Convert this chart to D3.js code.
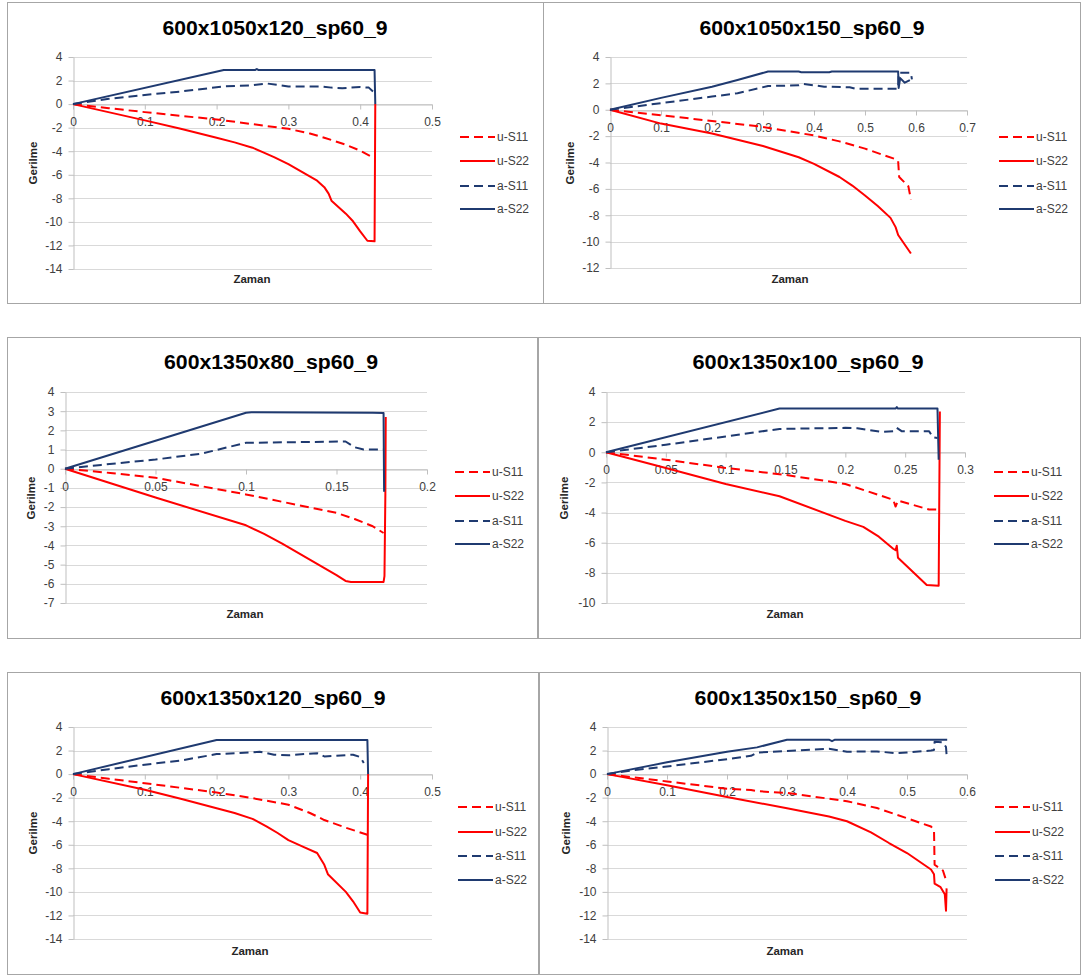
<!DOCTYPE html>
<html>
<head>
<meta charset="utf-8">
<script src="https://cdn.jsdelivr.net/npm/d3@7"></script>
<style>
  html, body { margin: 0; padding: 0; background: #ffffff; }
  svg { display: block; }
  text { font-family: "Liberation Sans", Arial, sans-serif; }
</style>
</head>
<body>
<svg id="chart" width="1083" height="976"></svg>
<script>
// ---------------- DATA ----------------
const titles = ["600x1050x120_sp60_9", "600x1050x150_sp60_9", "600x1350x80_sp60_9",
                "600x1350x100_sp60_9", "600x1350x120_sp60_9", "600x1350x150_sp60_9"];
const seriesNames = ["u-S11", "u-S22", "a-S11", "a-S22"];
const xAxisTitle = "Zaman";
const yAxisTitle = "Gerilme";

// tick values / labels
const xTicks1 = [0, 0.1, 0.2, 0.3, 0.4, 0.5];
const xTickLabels1 = ["0", "0.1", "0.2", "0.3", "0.4", "0.5"];
const xTicks2 = [0, 0.1, 0.2, 0.3, 0.4, 0.5, 0.6, 0.7];
const xTickLabels2 = ["0", "0.1", "0.2", "0.3", "0.4", "0.5", "0.6", "0.7"];
const xTicks3 = [0, 0.05, 0.1, 0.15, 0.2];
const xTickLabels3 = ["0", "0.05", "0.1", "0.15", "0.2"];
const xTicks4 = [0, 0.05, 0.1, 0.15, 0.2, 0.25, 0.3];
const xTickLabels4 = ["0", "0.05", "0.1", "0.15", "0.2", "0.25", "0.3"];
const xTicks6 = [0, 0.1, 0.2, 0.3, 0.4, 0.5, 0.6];
const xTickLabels6 = ["0", "0.1", "0.2", "0.3", "0.4", "0.5", "0.6"];
const yTicks14 = [4, 2, 0, -2, -4, -6, -8, -10, -12, -14];
const yTicks12 = [4, 2, 0, -2, -4, -6, -8, -10, -12];
const yTicks7 = [4, 3, 2, 1, 0, -1, -2, -3, -4, -5, -6, -7];
const yTicks10 = [4, 2, 0, -2, -4, -6, -8, -10];

// Panel 1: 600x1050x120
const p1_uS11 = [[0,0],[0.05,-0.35],[0.1,-0.68],[0.15,-1.0],[0.2,-1.3],[0.25,-1.7],[0.3,-2.1],[0.33,-2.5],[0.35,-2.85],[0.38,-3.45],[0.4,-3.95],[0.42,-4.6]];
const p1_uS22 = [[0,0],[0.1,-1.38],[0.15,-2.1],[0.2,-2.85],[0.225,-3.25],[0.25,-3.7],[0.265,-4.1],[0.28,-4.5],[0.3,-5.1],[0.32,-5.8],[0.34,-6.5],[0.35,-7.05],[0.356,-7.6],[0.36,-8.2],[0.38,-9.3],[0.39,-9.95],[0.4,-10.8],[0.41,-11.6],[0.42,-11.65],[0.421,0]];
const p1_aS11 = [[0,0],[0.05,0.45],[0.1,0.78],[0.15,1.07],[0.21,1.5],[0.25,1.6],[0.27,1.75],[0.3,1.5],[0.345,1.5],[0.36,1.4],[0.375,1.35],[0.4,1.45],[0.412,1.4],[0.42,0.95]];
const p1_aS22 = [[0,0],[0.21,2.9],[0.254,2.9],[0.256,2.98],[0.258,2.9],[0.42,2.9],[0.421,0]];

// Panel 2: 600x1050x150
const p2_uS11 = [[0,0],[0.1,-0.42],[0.2,-0.85],[0.3,-1.3],[0.4,-1.95],[0.45,-2.4],[0.5,-2.95],[0.56,-3.75],[0.565,-3.9],[0.567,-5.1],[0.585,-5.8],[0.59,-6.8]];
const p2_uS22 = [[0,0],[0.1,-1.05],[0.2,-1.8],[0.3,-2.75],[0.37,-3.6],[0.4,-4.1],[0.45,-5.1],[0.475,-5.75],[0.5,-6.5],[0.525,-7.3],[0.55,-8.2],[0.56,-8.9],[0.565,-9.5],[0.59,-10.9]];
const p2_aS11 = [[0,0],[0.1,0.5],[0.2,1.0],[0.25,1.25],[0.31,1.8],[0.37,1.85],[0.38,1.95],[0.42,1.75],[0.47,1.7],[0.48,1.6],[0.565,1.6],[0.566,2.8],[0.59,2.8],[0.592,2.3]];
const p2_aS22 = [[0,0],[0.1,0.9],[0.2,1.75],[0.25,2.25],[0.31,2.9],[0.37,2.9],[0.375,2.85],[0.43,2.85],[0.435,2.9],[0.565,2.9],[0.566,1.65],[0.569,2.4],[0.578,2.05],[0.588,2.25]];

// Panel 3: 600x1350x80
const p3_uS11 = [[0,0],[0.025,-0.22],[0.05,-0.47],[0.1,-1.34],[0.15,-2.3],[0.16,-2.62],[0.17,-3.0],[0.176,-3.35]];
const p3_uS22 = [[0,0],[0.05,-1.5],[0.1,-2.95],[0.11,-3.4],[0.12,-3.9],[0.15,-5.55],[0.155,-5.85],[0.158,-5.9],[0.176,-5.9],[0.1765,-5.6],[0.177,-1.3],[0.1772,2.7]];
const p3_aS11 = [[0,0],[0.02,0.2],[0.05,0.48],[0.075,0.78],[0.1,1.35],[0.155,1.42],[0.16,1.12],[0.165,1.0],[0.176,1.0]];
const p3_aS22 = [[0,0],[0.1,2.92],[0.103,2.95],[0.17,2.92],[0.176,2.9],[0.1763,-1.2]];

// Panel 4: 600x1350x100
const p4_uS11 = [[0,0],[0.05,-0.49],[0.1,-1.04],[0.15,-1.5],[0.2,-2.1],[0.24,-3.15],[0.242,-3.6],[0.244,-3.2],[0.27,-3.8],[0.277,-3.8]];
const p4_uS22 = [[0,0],[0.05,-1.04],[0.1,-2.1],[0.145,-2.92],[0.2,-4.55],[0.215,-4.95],[0.228,-5.6],[0.24,-6.4],[0.242,-6.5],[0.243,-6.2],[0.244,-7.0],[0.268,-8.8],[0.278,-8.85],[0.279,2.7]];
const p4_aS11 = [[0,0],[0.05,0.5],[0.1,1.05],[0.145,1.55],[0.2,1.62],[0.21,1.6],[0.23,1.35],[0.24,1.4],[0.243,1.62],[0.247,1.4],[0.27,1.4],[0.273,1.0],[0.277,0.95]];
const p4_aS22 = [[0,0],[0.145,2.9],[0.242,2.9],[0.243,3.0],[0.244,2.9],[0.277,2.9],[0.278,-0.5]];

// Panel 5: 600x1350x120
const p5_uS11 = [[0,0],[0.05,-0.4],[0.1,-0.77],[0.2,-1.56],[0.25,-2.04],[0.3,-2.6],[0.33,-3.3],[0.35,-3.9],[0.38,-4.55],[0.41,-5.15]];
const p5_uS22 = [[0,0],[0.1,-1.33],[0.15,-2.1],[0.2,-2.9],[0.225,-3.3],[0.25,-3.8],[0.27,-4.45],[0.285,-5.0],[0.3,-5.6],[0.32,-6.15],[0.34,-6.7],[0.35,-7.7],[0.355,-8.5],[0.38,-10.0],[0.39,-10.8],[0.4,-11.75],[0.41,-11.85],[0.411,0]];
const p5_aS11 = [[0,0],[0.05,0.42],[0.1,0.8],[0.15,1.15],[0.2,1.7],[0.25,1.85],[0.26,1.9],[0.28,1.65],[0.3,1.6],[0.34,1.78],[0.35,1.5],[0.39,1.65],[0.4,1.45],[0.405,0.95]];
const p5_aS22 = [[0,0],[0.2,2.9],[0.25,2.9],[0.41,2.9],[0.411,0]];

// Panel 6: 600x1350x150
const p6_uS11 = [[0,0],[0.1,-0.62],[0.2,-1.24],[0.24,-1.35],[0.25,-1.45],[0.3,-1.6],[0.4,-2.3],[0.45,-2.88],[0.5,-3.75],[0.54,-4.45],[0.545,-4.75],[0.546,-7.7],[0.56,-8.2],[0.565,-9.0]];
const p6_uS22 = [[0,0],[0.1,-0.95],[0.2,-1.95],[0.3,-2.9],[0.37,-3.6],[0.4,-4.0],[0.44,-4.95],[0.47,-5.85],[0.5,-6.7],[0.54,-8.1],[0.545,-8.5],[0.546,-9.3],[0.556,-9.6],[0.563,-10.2],[0.565,-11.6],[0.566,-9.7]];
const p6_aS11 = [[0,0],[0.05,0.37],[0.1,0.65],[0.2,1.27],[0.24,1.55],[0.25,1.83],[0.3,1.97],[0.37,2.15],[0.4,1.9],[0.45,1.93],[0.48,1.78],[0.5,1.84],[0.54,2.0],[0.545,2.05],[0.546,2.75],[0.56,2.7],[0.565,2.3],[0.566,1.6]];
const p6_aS22 = [[0,0],[0.1,1.0],[0.2,1.9],[0.25,2.27],[0.3,2.92],[0.37,2.92],[0.375,2.8],[0.38,2.92],[0.567,2.92]];

// ---------------- LAYOUT / STYLE ----------------
const RED = "#ff0000", NAVY = "#1f3a70";
const seriesStyle = [
  { color: RED,  dash: "9,5" },
  { color: RED,  dash: null },
  { color: NAVY, dash: "9,5" },
  { color: NAVY, dash: null }
];

const panels = [
  { series: [p1_uS11, p1_uS22, p1_aS11, p1_aS22], xDom: [0, 0.5], yDom: [-14, 4], xTicks: xTicks1, xLabels: xTickLabels1, yTicks: yTicks14,
    box: [7, 2, 543, 303], plot: [73, 432, 57, 269], title: [275, 28, 225], legend: [460, [137, 161, 186, 209]], xlab: [252, 279], ylab: [33, 163] },
  { series: [p2_uS11, p2_uS22, p2_aS11, p2_aS22], xDom: [0, 0.7], yDom: [-12, 4], xTicks: xTicks2, xLabels: xTickLabels2, yTicks: yTicks12,
    box: [543, 2, 1080, 303], plot: [610, 967, 57, 268], title: [812, 28, 225], legend: [999, [137, 161, 186, 209]], xlab: [790, 279], ylab: [570, 163] },
  { series: [p3_uS11, p3_uS22, p3_aS11, p3_aS22], xDom: [0, 0.2], yDom: [-7, 4], xTicks: xTicks3, xLabels: xTickLabels3, yTicks: yTicks7,
    box: [7, 337, 537, 638], plot: [65, 427, 392, 603], title: [271, 362, 214], legend: [455, [472, 496, 521, 544]], xlab: [245, 614], ylab: [31, 498] },
  { series: [p4_uS11, p4_uS22, p4_aS11, p4_aS22], xDom: [0, 0.3], yDom: [-10, 4], xTicks: xTicks4, xLabels: xTickLabels4, yTicks: yTicks10,
    box: [538, 337, 1080, 638], plot: [606, 965, 392, 603], title: [808, 362, 231], legend: [994, [472, 496, 521, 544]], xlab: [785, 614], ylab: [564, 498] },
  { series: [p5_uS11, p5_uS22, p5_aS11, p5_aS22], xDom: [0, 0.5], yDom: [-14, 4], xTicks: xTicks1, xLabels: xTickLabels1, yTicks: yTicks14,
    box: [7, 672, 538, 974], plot: [73, 432, 727, 939], title: [273, 698, 225], legend: [458, [807, 832, 856, 880]], xlab: [250, 951], ylab: [33, 833] },
  { series: [p6_uS11, p6_uS22, p6_aS11, p6_aS22], xDom: [0, 0.6], yDom: [-14, 4], xTicks: xTicks6, xLabels: xTickLabels6, yTicks: yTicks14,
    box: [539, 672, 1080, 974], plot: [607, 967, 727, 939], title: [808, 698, 227], legend: [995, [807, 832, 856, 880]], xlab: [785, 951], ylab: [566, 833] }
];

// ---------------- DRAW ----------------
const svg = d3.select("#chart");
svg.append("rect").attr("width", 1083).attr("height", 976).attr("fill", "#ffffff");

panels.forEach((p, i) => {
  const g = svg.append("g");
  const [bx0, by0, bx1, by1] = p.box;
  g.append("rect")
    .attr("x", bx0 + 0.5).attr("y", by0 + 0.5)
    .attr("width", bx1 - bx0).attr("height", by1 - by0)
    .attr("fill", "#ffffff").attr("stroke", "#a6a6a6").attr("stroke-width", 1);

  const [px0, px1, py0, py1] = p.plot;
  const x = d3.scaleLinear().domain(p.xDom).range([px0, px1]);
  const y = d3.scaleLinear().domain([p.yDom[1], p.yDom[0]]).range([py0, py1]);

  // gridlines
  g.append("g").selectAll("line").data(p.yTicks).join("line")
    .attr("x1", px0).attr("x2", px1)
    .attr("y1", d => Math.round(y(d)) + 0.5).attr("y2", d => Math.round(y(d)) + 0.5)
    .attr("stroke", "#d9d9d9").attr("stroke-width", 1);

  // y axis
  const yAxis = d3.axisLeft(y).tickValues(p.yTicks).tickSize(5).tickSizeOuter(0).tickPadding(6)
    .tickFormat(d => String(d));
  const ya = g.append("g").attr("transform", `translate(${Math.round(px0) + 0.5},0)`).call(yAxis);
  ya.select(".domain").attr("stroke", "#bfbfbf").attr("stroke-width", 1);
  ya.selectAll(".tick line").attr("stroke", "#bfbfbf");
  ya.selectAll(".tick text").attr("fill", "#404040").style("font-size", "12px")
    .style("font-family", "'Liberation Sans', Arial, sans-serif");

  // x axis at y = 0
  const xAxis = d3.axisBottom(x).tickValues(p.xTicks).tickSize(5).tickSizeOuter(0).tickPadding(8)
    .tickFormat((d, k) => p.xLabels[k]);
  const xa = g.append("g").attr("transform", `translate(0,${Math.round(y(0)) + 0.5})`).call(xAxis);
  xa.select(".domain").attr("stroke", "#bfbfbf").attr("stroke-width", 1);
  xa.selectAll(".tick line").attr("stroke", "#bfbfbf");
  xa.selectAll(".tick text").attr("fill", "#404040").style("font-size", "12px")
    .style("font-family", "'Liberation Sans', Arial, sans-serif");

  // series
  const line = d3.line().x(d => x(d[0])).y(d => y(d[1]));
  p.series.forEach((data, k) => {
    g.append("path").datum(data)
      .attr("d", line)
      .attr("fill", "none")
      .attr("stroke", seriesStyle[k].color)
      .attr("stroke-width", 2)
      .attr("stroke-linejoin", "round")
      .attr("stroke-dasharray", seriesStyle[k].dash);
  });

  // title
  g.append("text")
    .attr("x", p.title[0]).attr("y", p.title[1])
    .attr("text-anchor", "middle").attr("dy", "0.36em")
    .attr("textLength", p.title[2]).attr("lengthAdjust", "spacingAndGlyphs")
    .style("font-size", "20px").style("font-weight", "bold").attr("fill", "#000000")
    .text(titles[i]);

  // axis titles
  g.append("text")
    .attr("x", p.xlab[0]).attr("y", p.xlab[1]).attr("dy", "0.35em")
    .attr("text-anchor", "middle")
    .style("font-size", "11.5px").style("font-weight", "bold").attr("fill", "#262626")
    .text(xAxisTitle);
  g.append("text")
    .attr("transform", `translate(${p.ylab[0]},${p.ylab[1]}) rotate(-90)`)
    .attr("dy", "0.35em").attr("text-anchor", "middle")
    .style("font-size", "11.5px").style("font-weight", "bold").attr("fill", "#262626")
    .text(yAxisTitle);

  // legend
  const lg = g.append("g");
  seriesNames.forEach((name, k) => {
    const ly = p.legend[1][k];
    lg.append("line")
      .attr("x1", p.legend[0]).attr("x2", p.legend[0] + 35)
      .attr("y1", ly).attr("y2", ly)
      .attr("stroke", seriesStyle[k].color).attr("stroke-width", 2)
      .attr("stroke-dasharray", seriesStyle[k].dash);
    lg.append("text")
      .attr("x", p.legend[0] + 37).attr("y", ly).attr("dy", "0.35em")
      .style("font-size", "12px").attr("fill", "#404040")
      .text(name);
  });
});
</script>
</body>
</html>
